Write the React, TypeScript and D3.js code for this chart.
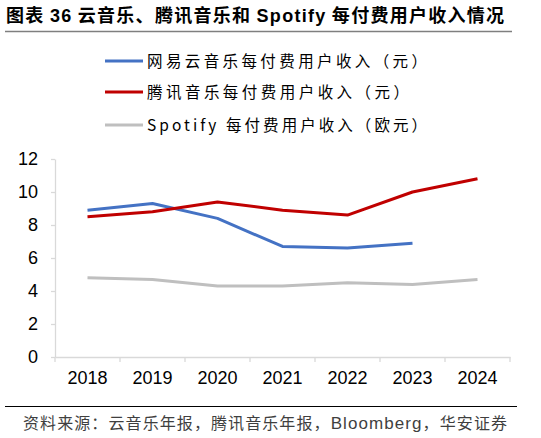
import { useEffect, useRef } from 'react';
import * as d3 from 'd3';

const years = ['2018', '2019', '2020', '2021', '2022', '2023', '2024'];
const neteaseArppu = [8.9, 9.3, 8.4, 6.7, 6.6, 6.9];
const tmeArppu = [8.5, 8.8, 9.4, 8.9, 8.6, 10.0, 10.8];
const spotifyArppu = [4.8, 4.7, 4.3, 4.3, 4.5, 4.4, 4.7];
const yTicks = [0, 2, 4, 6, 8, 10, 12];

const seriesNames = [
  '网易云音乐每付费用户收入（元）',
  '腾讯音乐每付费用户收入（元）',
  'Spotify 每付费用户收入（欧元）',
];
const seriesColors = ['#4472c4', '#c00000', '#bfbfbf'];

const CJK = '"Noto Sans CJK SC", "Liberation Sans", sans-serif';
const SANS = '"Liberation Sans", Arial, sans-serif';

export default function App() {
  const svgRef = useRef<SVGSVGElement>(null);

  useEffect(() => {
    if (!svgRef.current) return;
    const svg = d3.select(svgRef.current);
    svg.selectAll('*').remove();

    const width = 541;
    const margin = { left: 55, right: 31, top: 159 };
    const plotBottom = 357;

    // title, Latin parts in Arial-like font
    const title = svg.append('text')
      .attr('x', 6).attr('y', 22)
      .attr('font-family', CJK).attr('font-weight', 'bold')
      .attr('font-size', 18).attr('fill', '#000')
      .attr('textLength', 498).attr('lengthAdjust', 'spacing');
    title.append('tspan').text('图表 ');
    title.append('tspan').attr('font-family', SANS).text('36');
    title.append('tspan').text(' 云音乐、腾讯音乐和 ');
    title.append('tspan').attr('font-family', SANS).text('Spotify');
    title.append('tspan').text(' 每付费用户收入情况');
    svg.append('line')
      .attr('x1', 5).attr('x2', 512).attr('y1', 31.5).attr('y2', 31.5)
      .attr('stroke', '#7f7f7f').attr('stroke-width', 1.5);

    // legend
    const legendY = [61, 92, 125];
    seriesNames.forEach((name, i) => {
      const g = svg.append('g');
      g.append('line')
        .attr('x1', 105).attr('x2', 143)
        .attr('y1', legendY[i]).attr('y2', legendY[i])
        .attr('stroke', seriesColors[i]).attr('stroke-width', 3);
      g.append('text')
        .attr('x', 147).attr('y', legendY[i] + 5.5)
        .attr('font-family', CJK).attr('font-size', 15.5).attr('fill', '#000')
        .attr('textLength', i === 1 ? 262 : 280).attr('lengthAdjust', 'spacing')
        .text(name);
    });

    const x = d3.scaleBand<string>()
      .domain(years)
      .range([margin.left, width - margin.right]);
    const y = d3.scaleLinear()
      .domain([0, 12])
      .range([plotBottom, margin.top]);

    // y axis
    const yAxis = svg.append('g')
      .attr('transform', `translate(${margin.left},0)`)
      .call(d3.axisLeft(y).tickValues(yTicks).tickSize(4).tickSizeOuter(0).tickPadding(13));
    yAxis.select('.domain').attr('stroke', '#d9d9d9').attr('stroke-width', 1.3);
    yAxis.selectAll('.tick line').attr('stroke', '#d9d9d9').attr('stroke-width', 1.3);
    yAxis.selectAll('.tick text')
      .attr('font-family', SANS).attr('font-size', 18).attr('fill', '#000');

    // x axis
    const xAxis = svg.append('g')
      .attr('transform', `translate(0,${plotBottom})`)
      .call(d3.axisBottom(x).tickSize(0).tickPadding(14));
    xAxis.select('.domain').attr('stroke', '#d9d9d9').attr('stroke-width', 1.3);
    xAxis.selectAll('.tick text')
      .attr('font-family', SANS).attr('font-size', 18).attr('fill', '#000');
    xAxis.selectAll('.sep')
      .data(years.concat(['end']))
      .enter()
      .append('line')
      .attr('class', 'sep')
      .attr('x1', (d) => (d === 'end' ? x.range()[1] : x(d)!))
      .attr('x2', (d) => (d === 'end' ? x.range()[1] : x(d)!))
      .attr('y1', 0).attr('y2', 5)
      .attr('stroke', '#d9d9d9').attr('stroke-width', 1.3);

    // lines
    const line = d3.line<number>()
      .x((_, i) => x(years[i])! + x.bandwidth() / 2)
      .y((d) => y(d));
    const allSeries = [neteaseArppu, tmeArppu, spotifyArppu];
    [2, 0, 1].forEach((i) => {
      svg.append('path')
        .datum(allSeries[i])
        .attr('d', line)
        .attr('fill', 'none')
        .attr('stroke', seriesColors[i])
        .attr('stroke-width', 3)
        .attr('stroke-linejoin', 'round');
    });

    // source
    svg.append('line')
      .attr('x1', 5).attr('x2', 517).attr('y1', 406.5).attr('y2', 406.5)
      .attr('stroke', '#000').attr('stroke-width', 1);
    const src = svg.append('text')
      .attr('x', 23).attr('y', 429)
      .attr('font-family', CJK).attr('font-size', 16).attr('fill', '#3f3f3f')
      .attr('textLength', 484).attr('lengthAdjust', 'spacing');
    src.append('tspan').text('资料来源：云音乐年报，腾讯音乐年报，');
    src.append('tspan').attr('font-family', SANS).attr('font-size', 17).text('Bloomberg');
    src.append('tspan').text('，华安证券');
  }, []);

  return (
    <svg
      ref={svgRef}
      width={541}
      height={438}
      style={{ display: 'block', position: 'absolute', left: 0, top: 0, background: '#fff' }}
    />
  );
}
